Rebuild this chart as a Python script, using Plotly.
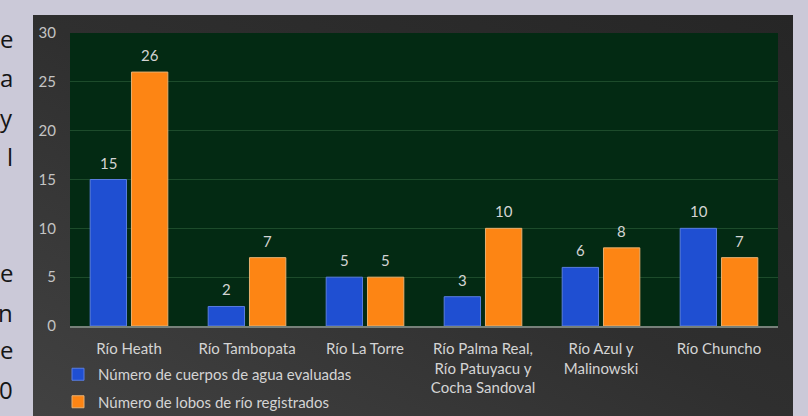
import base64
import plotly.graph_objects as go

categories = ["Río Heath", "Río Tambopata", "Río La Torre",
              "Río Palma Real,<br>Río Patuyacu y<br>Cocha Sandoval",
              "Río Azul y<br>Malinowski", "Río Chuncho"]
series_names = ["Número de cuerpos de agua evaluadas", "Número de lobos de río registrados"]
cuerpos = [15, 2, 5, 3, 6, 10]
lobos = [26, 7, 5, 10, 8, 7]
y_ticks = [0, 5, 10, 15, 20, 25, 30]
side_letters = ["e", "a", "y", "l", "e", "n", "e", "0"]
side_rows_px = [38, 78, 117, 156, 272, 312, 350, 389]

W, H = 808, 416
L, R, T, B = 70, 30, 33, 90
PW, PH = W - L - R, H - T - B

def px_x(p):
    return (p - L) / PW

def px_y(p):
    return (H - B - p) / PH

BLUE = "#1f4fd2"
ORANGE = "#fd8514"
LABEL = "#d4d4d4"
FONT = "Lato"

fig = go.Figure()
fig.add_trace(go.Bar(x=categories, y=cuerpos, name=series_names[0], legendgroup="a",
                     marker=dict(color=BLUE, line=dict(color="#5a7de0", width=1))))
fig.add_trace(go.Bar(x=categories, y=lobos, name=series_names[1], legendgroup="b",
                     marker=dict(color=ORANGE, line=dict(color="#e8b070", width=1))))

annotations = []
for i, c in enumerate(categories):
    annotations.append(dict(x=c, y=cuerpos[i], xref="x", yref="y", text=str(cuerpos[i]),
                            showarrow=False, xshift=-20.5, yshift=17,
                            font=dict(color=LABEL, size=15, family=FONT)))
    annotations.append(dict(x=c, y=lobos[i], xref="x", yref="y", text=str(lobos[i]),
                            showarrow=False, xshift=20.5, yshift=17,
                            font=dict(color=LABEL, size=15, family=FONT)))
for ch, py in zip(side_letters, side_rows_px):
    annotations.append(dict(x=px_x(15), y=px_y(py), xref="paper", yref="paper", text=ch,
                            showarrow=False, xanchor="right", yanchor="middle",
                            font=dict(color="#151515", size=24, family="Open Sans")))

svg = ('<svg xmlns="http://www.w3.org/2000/svg" width="760" height="405">'
       '<defs><linearGradient id="g" x1="0" y1="1" x2="1" y2="0">'
       '<stop offset="0" stop-color="#424242"/><stop offset="0.5" stop-color="#2f2f2f"/>'
       '<stop offset="1" stop-color="#262626"/></linearGradient></defs>'
       '<rect width="760" height="405" fill="url(#g)"/></svg>')
src = "data:image/svg+xml;base64," + base64.b64encode(svg.encode()).decode()

fig.add_layout_image(dict(source=src, xref="paper", yref="paper",
                          x=px_x(33), y=px_y(15), sizex=(793 - 33) / PW, sizey=(420 - 15) / PH,
                          xanchor="left", yanchor="top", sizing="stretch", layer="below"))

shapes = [dict(type="rect", xref="paper", yref="paper", x0=0, x1=1, y0=0, y1=1,
               fillcolor="#032a13", line=dict(width=0), layer="below")]

fig.update_layout(
    width=W, height=H,
    margin=dict(l=L, r=R, t=T, b=B, autoexpand=False),
    paper_bgcolor="#cbc9d8",
    plot_bgcolor="#032a13",
    barmode="group", bargap=0.3, bargroupgap=0.12,
    showlegend=True,
    legend=dict(x=px_x(58), xanchor="left", y=px_y(358), yanchor="top",
                orientation="v", traceorder="grouped", tracegroupgap=5,
                bgcolor="rgba(0,0,0,0)", itemwidth=30,
                font=dict(color=LABEL, size=15, family=FONT)),
    annotations=annotations,
    shapes=shapes,
    xaxis=dict(showgrid=False, showline=True, linecolor="#77807a", linewidth=2,
               ticks="", ticklabelstandoff=8,
               tickfont=dict(color=LABEL, size=15, family=FONT), fixedrange=True),
    yaxis=dict(range=[0, 30], tickvals=y_ticks, showgrid=True, gridcolor="#1d4b2b", gridwidth=1,
               zeroline=False, showline=False, ticks="", ticklabelstandoff=13,
               tickfont=dict(color="#c4c4c4", size=15, family=FONT), fixedrange=True),
)

post = ("document.documentElement.style.margin='0';document.body.style.margin='0';"
        "document.body.style.padding='0';document.body.style.overflow='hidden';"
        "document.body.style.background='#cbc9d8';")
fig.write_html("out.html", post_script=post, config={"displayModeBar": False})
